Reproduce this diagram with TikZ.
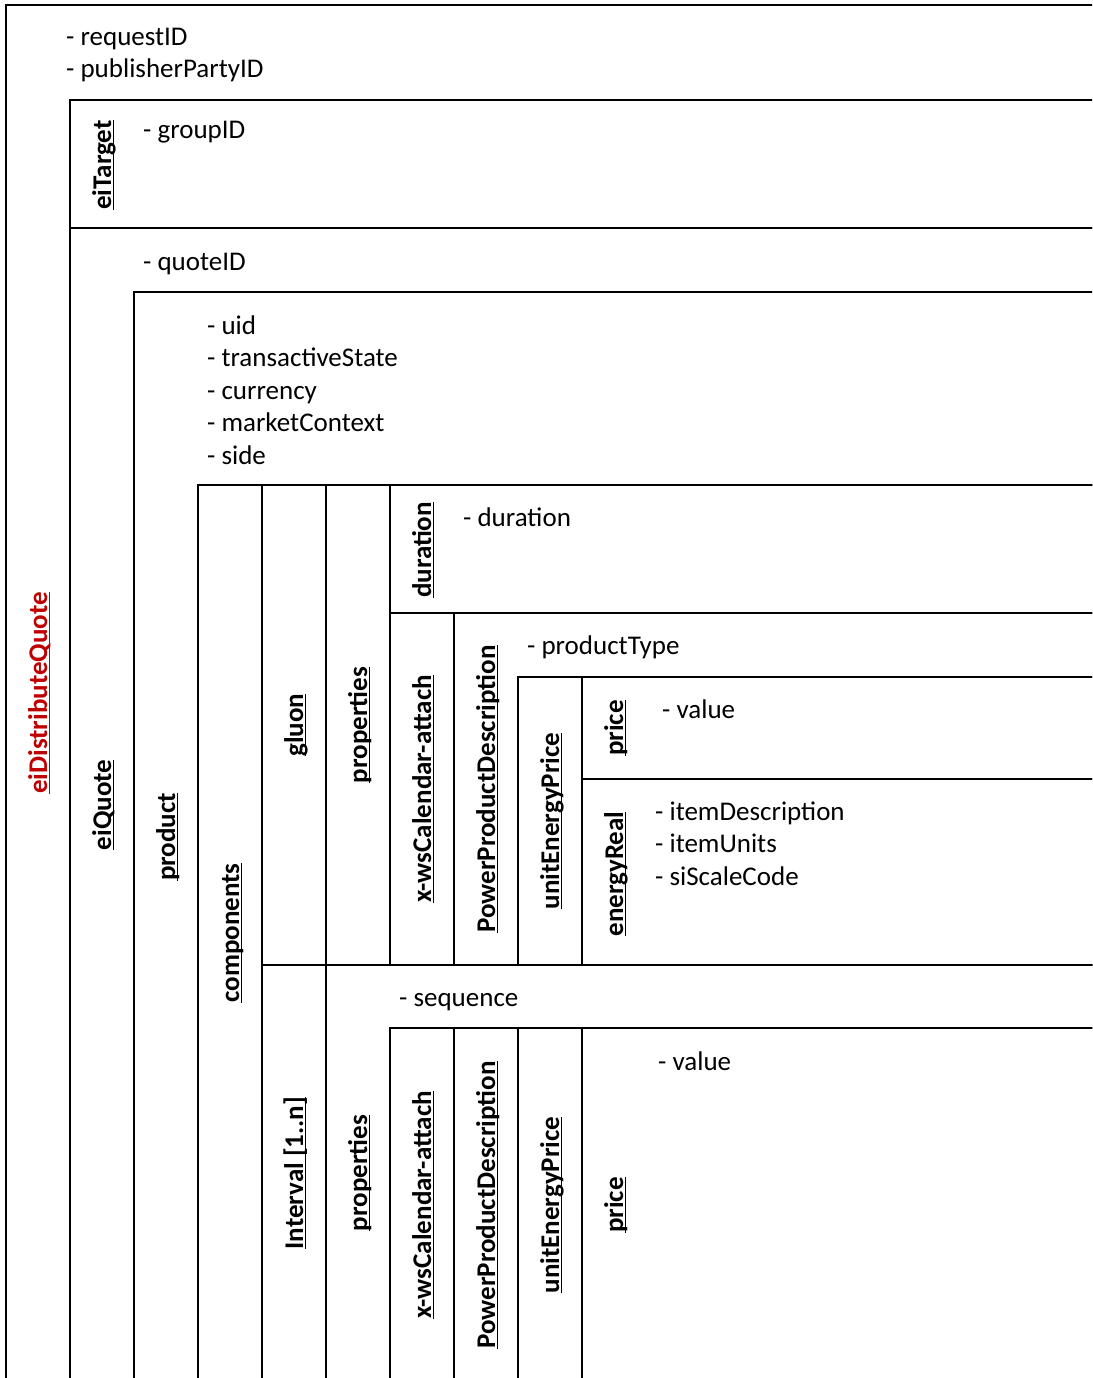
\documentclass[tikz,border=0pt]{standalone}
\usepackage{fontspec}
\setmainfont{Carlito}
\definecolor{titlered}{HTML}{C00000}
% bold label with a fixed-offset underline (descenders may cross it)
\newcommand\ulab[1]{\setbox0\hbox{#1}\rlap{\rule[-3pt]{\wd0}{1.5pt}}\box0}
\tikzset{
  frame/.style={draw=black, line width=1.7pt},
  field/.style={anchor=base west, inner sep=0pt, font=\fontsize{27}{32}\selectfont},
  tag/.style={rotate=90, anchor=base, inner sep=0pt, font=\fontsize{27}{32}\selectfont\bfseries},
}
\begin{document}
\begin{tikzpicture}[x=1pt, y=-1pt]
\useasboundingbox (0,0) rectangle (1092,1378);
\fill[white] (0,0) rectangle (1092,1378);
\clip (0,0) rectangle (1092,1378);

% nested containers (they run past the right and bottom page edges)
\draw[frame] (6,5)      rectangle (1100,1381);  % eiDistributeQuote
\draw[frame] (70,100)   rectangle (1100,228);   % eiTarget
\draw[frame] (70,228)   rectangle (1100,1381);  % eiQuote
\draw[frame] (134,292)  rectangle (1100,1381);  % product
\draw[frame] (198,485)  rectangle (1100,1381);  % components
\draw[frame] (262,485)  rectangle (1100,965);   % gluon
\draw[frame] (326,485)  rectangle (1100,965);   % properties
\draw[frame] (390,485)  rectangle (1100,613);   % duration
\draw[frame] (390,613)  rectangle (1100,965);   % x-wsCalendar-attach
\draw[frame] (454,613)  rectangle (1100,965);   % PowerProductDescription
\draw[frame] (518,677)  rectangle (1100,965);   % unitEnergyPrice
\draw[frame] (582,677)  rectangle (1100,779);   % price
\draw[frame] (582,779)  rectangle (1100,965);   % energyReal
\draw[frame] (262,965)  rectangle (1100,1381);  % Interval
\draw[frame] (326,965)  rectangle (1100,1381);  % properties
\draw[frame] (390,1028) rectangle (1100,1381);  % x-wsCalendar-attach
\draw[frame] (454,1028) rectangle (1100,1381);  % PowerProductDescription
\draw[frame] (518,1028) rectangle (1100,1381);  % unitEnergyPrice
\draw[frame] (582,1028) rectangle (1100,1381);  % price

% rotated element names
\node[tag, text=titlered] (tDist)  at (47,693)   {\ulab{eiDistributeQuote}};
\node[tag] (tTarget) at (111,165)  {\ulab{eiTarget}};
\node[tag] (tQuote)  at (111,805)  {\ulab{eiQuote}};
\node[tag] (tProd)   at (175,837)  {\ulab{product}};
\node[tag] (tComp)   at (239,933)  {\ulab{components}};
\node[tag] (tGluon)  at (303,725)  {\ulab{gluon}};
\node[tag] (tPropA)  at (367,725)  {\ulab{properties}};
\node[tag] (tDur)    at (431,550)  {\ulab{duration}};
\node[tag] (tCalA)   at (431,789)  {\ulab{x-wsCalendar-attach}};
\node[tag] (tPpdA)   at (495,789)  {\ulab{PowerProductDescription}};
\node[tag] (tUepA)   at (559,821)  {\ulab{unitEnergyPrice}};
\node[tag] (tPriceA) at (623,728)  {\ulab{price}};
\node[tag] (tEnergy) at (623,874)  {\ulab{energyReal}};
\node[tag] (tIntv)   at (303,1173) {\ulab{Interval [1..n]}};
\node[tag] (tPropB)  at (367,1173) {\ulab{properties}};
\node[tag] (tCalB)   at (431,1205) {\ulab{x-wsCalendar-attach}};
\node[tag] (tPpdB)   at (495,1205) {\ulab{PowerProductDescription}};
\node[tag] (tUepB)   at (559,1205) {\ulab{unitEnergyPrice}};
\node[tag] (tPriceB) at (623,1205) {\ulab{price}};

% attribute lists
\node[field] (fReq)   at (66,46)    {- requestID};
\node[field] (fPub)   at (66,78)    {- publisherPartyID};
\node[field] (fGrp)   at (143,139)  {- groupID};
\node[field] (fQid)   at (143,270)  {- quoteID};
\node[field] (fUid)   at (207,334)  {- uid};
\node[field] (fTst)   at (207,366.5){- transactiveState};
\node[field] (fCur)   at (207,399)  {- currency};
\node[field] (fMkt)   at (207,431.5){- marketContext};
\node[field] (fSide)  at (207,464)  {- side};
\node[field] (fDur)   at (463,526)  {- duration};
\node[field] (fPtype) at (527,654)  {- productType};
\node[field] (fValA)  at (662,718)  {- value};
\node[field] (fIdesc) at (655,820)  {- itemDescription};
\node[field] (fIunit) at (655,852.5){- itemUnits};
\node[field] (fSi)    at (655,885)  {- siScaleCode};
\node[field] (fSeq)   at (399,1006) {- sequence};
\node[field] (fValB)  at (658,1070) {- value};
\end{tikzpicture}
\end{document}
